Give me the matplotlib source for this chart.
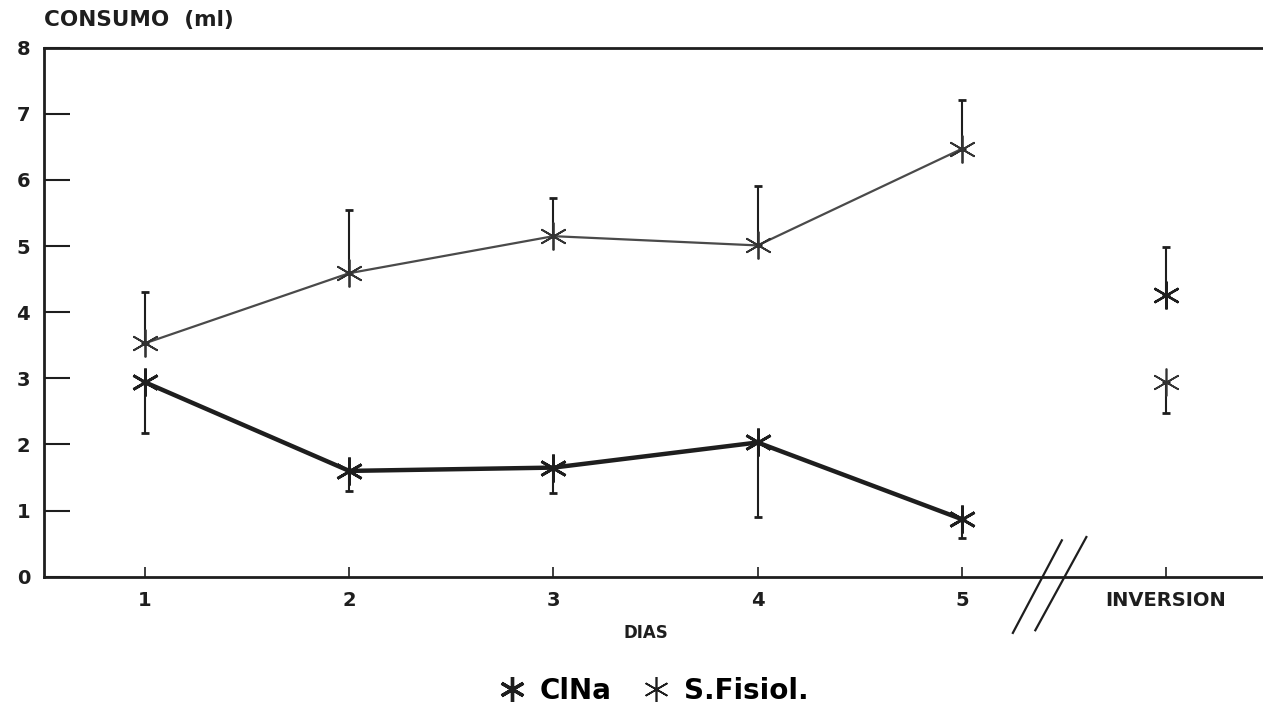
import matplotlib
matplotlib.use("Agg")
import matplotlib.pyplot as plt
from matplotlib.lines import Line2D

# Datos: consumo medio (ml) por día y error (barra de un solo lado)
dias = [1, 2, 3, 4, 5]
etiquetas_x = ["1", "2", "3", "4", "5", "INVERSION"]

clna = [2.94, 1.60, 1.65, 2.03, 0.87]
clna_err = [0.76, 0.31, 0.39, 1.12, 0.29]

fisiol = [3.53, 4.59, 5.15, 5.01, 6.47]
fisiol_err = [0.78, 0.96, 0.57, 0.90, 0.74]

# Prueba de inversión (posición 6 en el eje)
x_inversion = 6
inv_fisiol, inv_fisiol_err = 4.26, 0.73
inv_clna, inv_clna_err = 2.94, 0.46

plt.rcParams['font.family'] = ['DejaVu Sans']
plt.rcParams['font.weight'] = 'bold'

fig = plt.figure(figsize=(12.63, 7.09), dpi=100)
ax = fig.add_axes([0.0348, 0.1866, 0.9652, 0.7461])

asterisco = (6, 2, 0)
negro = '#1e1e1e'
gris = '#4a4a4a'
oscuro = '#333333'

# S.Fisiol.: línea fina, error hacia arriba
ax.plot(dias, fisiol, color=gris, lw=1.6, zorder=3)
ax.errorbar(dias, fisiol, yerr=[[0] * len(fisiol), fisiol_err], fmt='none',
            ecolor=negro, elinewidth=1.5, capsize=3, capthick=2, zorder=2)
ax.plot(dias, fisiol, ls='none', marker=asterisco, ms=20, mew=1.3,
        color=oscuro, zorder=4)

# ClNa: línea gruesa, error hacia abajo
ax.plot(dias, clna, color=negro, lw=3.2, zorder=3)
ax.errorbar(dias, clna, yerr=[clna_err, [0] * len(clna)], fmt='none',
            ecolor=negro, elinewidth=1.5, capsize=3, capthick=2, zorder=2)
ax.plot(dias, clna, ls='none', marker=asterisco, ms=20, mew=2.0,
        color=negro, zorder=4)

# Inversión: puntos sueltos
ax.errorbar([x_inversion], [inv_fisiol], yerr=[[0], [inv_fisiol_err]], fmt='none',
            ecolor=negro, elinewidth=1.5, capsize=3, capthick=2)
ax.plot([x_inversion], [inv_fisiol], ls='none', marker=asterisco, ms=20,
        mew=1.7, color=negro, zorder=4)
ax.errorbar([x_inversion], [inv_clna], yerr=[[inv_clna_err], [0]], fmt='none',
            ecolor=negro, elinewidth=1.5, capsize=3, capthick=2)
ax.plot([x_inversion], [inv_clna], ls='none', marker=asterisco, ms=20,
        mew=1.2, color=oscuro, zorder=4)

# Ejes
ax.set_xlim(0.505, 6.475)
ax.set_ylim(0, 8)
ax.set_yticks(range(0, 9))
ax.set_xticks(range(1, 7))
ax.set_xticklabels(etiquetas_x)
ax.spines['right'].set_visible(False)
for s in ['left', 'bottom', 'top']:
    ax.spines[s].set_linewidth(2)
    ax.spines[s].set_color(negro)
ax.tick_params(axis='y', direction='in', length=19, width=1.5, pad=10,
               labelsize=14, colors=negro)
ax.tick_params(axis='x', direction='in', length=7, width=1.2, pad=10,
               labelsize=14, colors=negro)

# Marca de corte entre el día 5 y la inversión
ax.plot([5.25, 5.49], [-0.85, 0.55], color=negro, lw=1.6, clip_on=False)
ax.plot([5.36, 5.61], [-0.81, 0.60], color=negro, lw=1.6, clip_on=False)

fig.text(0.0348, 0.972, "CONSUMO  (ml)", fontsize=15.5, fontweight='bold',
         ha='left', va='center', color=negro)
fig.text(0.511, 0.107, "DIAS", fontsize=12, fontweight='bold',
         ha='center', va='center', color=negro)

handles = [
    Line2D([], [], ls='none', marker=asterisco, ms=18, mew=2.4, color=negro),
    Line2D([], [], ls='none', marker=asterisco, ms=18, mew=1.2, color=negro),
]
fig.legend(handles, ["ClNa", "S.Fisiol."], loc='center',
           bbox_to_anchor=(0.516, 0.026), ncol=2, frameon=False,
           prop={'size': 20, 'weight': 'bold'}, handlelength=1.2,
           handletextpad=0.4, columnspacing=1.0)

fig.savefig("out.png", dpi=100, facecolor='white')
